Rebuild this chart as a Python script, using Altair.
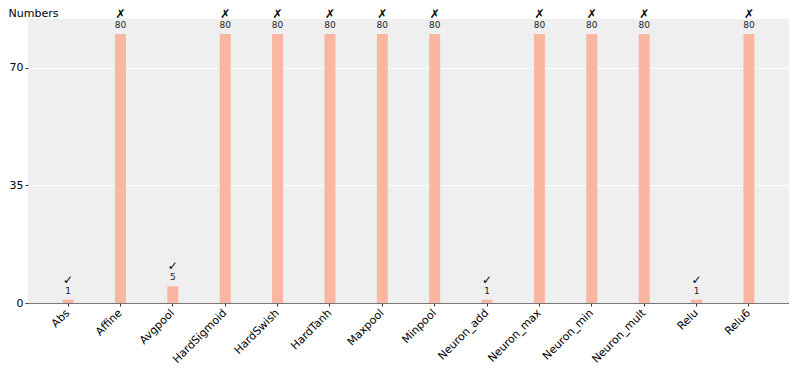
import altair as alt
import pandas as pd

categories = ["Abs", "Affine", "Avgpool", "HardSigmoid", "HardSwish", "HardTanh",
              "Maxpool", "Minpool", "Neuron_add", "Neuron_max", "Neuron_min",
              "Neuron_mult", "Relu", "Relu6"]
values = [1, 80, 5, 80, 80, 80, 80, 80, 1, 80, 80, 80, 1, 80]
marks = ["✓", "✗", "✓", "✗", "✗", "✗", "✗", "✗", "✓", "✗", "✗", "✗", "✓", "✗"]

df = pd.DataFrame({"op": categories, "n": values, "mark": marks})

FONT = "DejaVu Sans"

x = alt.X("op:N", sort=categories, title=None,
          scale=alt.Scale(paddingInner=0.79, paddingOuter=0.66),
          axis=alt.Axis(labelAngle=-45, labelAlign="right", labelBaseline="middle",
                        labelFontSize=11, labelColor="black", labelFont=FONT,
                        domainColor="#777777", tickColor="#333333", tickSize=3,
                        labelPadding=5, grid=False))
y = alt.Y("n:Q", title="Numbers",
          scale=alt.Scale(domain=[0, 84.5], nice=False, zero=True),
          axis=alt.Axis(values=[0, 35, 70], labelFontSize=11, labelColor="black",
                        labelFont=FONT, tickColor="#333333", tickSize=3, domain=False,
                        gridColor="white", gridWidth=1.2,
                        titleAngle=0, titleX=-20, titleY=-3, titleAlign="left",
                        titleBaseline="alphabetic", titleFont=FONT, titleFontSize=11,
                        titleFontWeight="normal", titleColor="black"))

bars = alt.Chart(df).mark_bar(color="#f9b7a2").encode(x=x, y=y)

nums = alt.Chart(df).mark_text(dy=-4, baseline="bottom", fontSize=9, font=FONT,
                               color="#222222").encode(
    x=alt.X("op:N", sort=categories), y="n:Q", text="n:Q")

syms = alt.Chart(df).mark_text(dy=-13, baseline="bottom", fontSize=12, font=FONT,
                               fontWeight="bold", color="#000000").encode(
    x=alt.X("op:N", sort=categories), y="n:Q", text="mark:N")

chart = (bars + nums + syms).properties(
    width=761, height=284,
    autosize=alt.AutoSizeParams(type="none"),
    padding={"left": 20, "top": 11, "right": 0, "bottom": 63},
).configure_view(fill="#efefef", strokeWidth=0)

chart.save("out.html", embed_options={"renderer": "svg", "actions": False})
